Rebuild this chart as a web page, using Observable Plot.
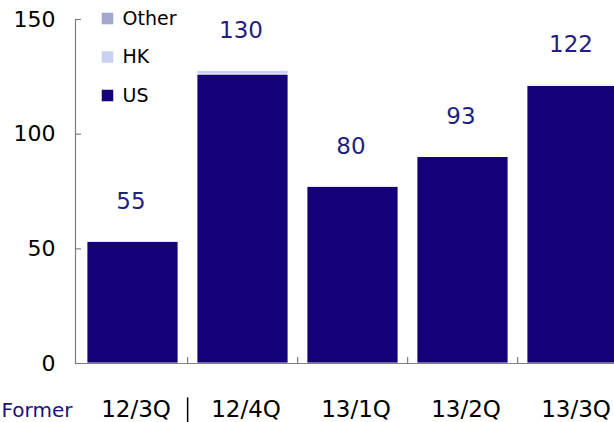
<!DOCTYPE html>
<html><head><meta charset="utf-8">
<script src="https://cdn.jsdelivr.net/npm/d3@7"></script>
<script src="https://cdn.jsdelivr.net/npm/@observablehq/plot@0.6"></script>
<style>html,body{margin:0;padding:0;background:#fff;overflow:hidden}</style>
</head><body><div id="chart"></div>
<script>
const categories = ["12/3Q", "12/4Q", "13/1Q", "13/2Q", "13/3Q"];
const usValues = [53, 126, 77, 90, 121];
const hkValues = [0, 1.6, 0, 0.3, 0];
const otherValues = [0, 0, 0, 0, 0.5];
const totalLabels = ["55", "130", "80", "93", "122"];
const legendNames = ["Other", "HK", "US"];
const yTicks = [0, 50, 100, 150];
const formerLabel = "Former";

const colors = {US: "#140078", HK: "#c8d2f0", Other: "#a3a7d0"};
const font = "DejaVu Sans, sans-serif";

const rows = [];
categories.forEach((c, i) => {
  rows.push({cat: c, series: "US", value: usValues[i]});
  rows.push({cat: c, series: "HK", value: hkValues[i]});
  rows.push({cat: c, series: "Other", value: otherValues[i]});
});
const tops = categories.map((c, i) => ({cat: c, top: usValues[i] + hkValues[i] + otherValues[i], label: totalLabels[i]}));

const W = 614, H = 422, mL = 75, mT = 19, mB = 59;
const xR = [76, 628], pIn = 0.175, pOut = 0.08;
const step = (xR[1] - xR[0]) / (categories.length - pIn + 2 * pOut);
const axisGray = "#808080";

const legendMarks = legendNames.flatMap((name, i) => [
  Plot.dot([name], {frameAnchor: "top-left", dx: 32, dy: -1 + i * 38.5, symbol: "square", r: 6.5, fill: colors[name]}),
  Plot.text([name], {frameAnchor: "top-left", lineAnchor: "middle", dx: 47, dy: -1 + i * 38.5, text: d => d, textAnchor: "start", fontSize: 19, fill: "#000"})
]);

const chart = Plot.plot({
  width: W, height: H,
  marginLeft: mL, marginRight: 0, marginTop: mT, marginBottom: mB,
  style: {fontFamily: font, background: "#fff", overflow: "visible"},
  x: {domain: categories, range: xR, paddingInner: pIn, paddingOuter: pOut, align: 0.5, axis: null, label: null},
  y: {domain: [0, 150], axis: null, label: null},
  color: {domain: ["US", "HK", "Other"], range: [colors.US, colors.HK, colors.Other]},
  marks: [
    Plot.barY(rows, {x: "cat", y: "value", fill: "series", stroke: "#fff", strokeWidth: 0.8}),
    Plot.frame({anchor: "left", stroke: axisGray, strokeWidth: 1.2}),
    Plot.frame({anchor: "bottom", stroke: axisGray, strokeWidth: 1.2}),
    Plot.ruleY(yTicks, {stroke: axisGray, strokeWidth: 1.2, insetRight: W - mL - 6}),
    Plot.ruleX(categories.slice(1), {y1: 0, y2: 2.6, dx: -step / 2, stroke: axisGray, strokeWidth: 1.2}),
    Plot.ruleX([categories[1]], {y1: -15, y2: -27, dx: -step / 2, stroke: "#000", strokeWidth: 1.5}),
    Plot.axisY({ticks: yTicks, tickSize: 0, tickPadding: 20, fontSize: 22, fill: "#000", label: null, tickFormat: d => String(d)}),
    Plot.axisX({tickSize: 0, tickPadding: 37, fontSize: 23, dx: 3, fill: "#000", label: null}),
    Plot.text(tops, {x: "cat", y: "top", text: "label", dy: -40, dx: -2, fill: "#1f1f80", fontSize: 23}),
    Plot.text([formerLabel], {frameAnchor: "bottom-left", lineAnchor: "middle", dx: -mL + 1, dy: 47.5, text: d => d, textAnchor: "start", fontSize: 20, fill: "#1a1080"}),
    ...legendMarks
  ]
});
document.getElementById("chart").appendChild(chart);
</script>
</body></html>
